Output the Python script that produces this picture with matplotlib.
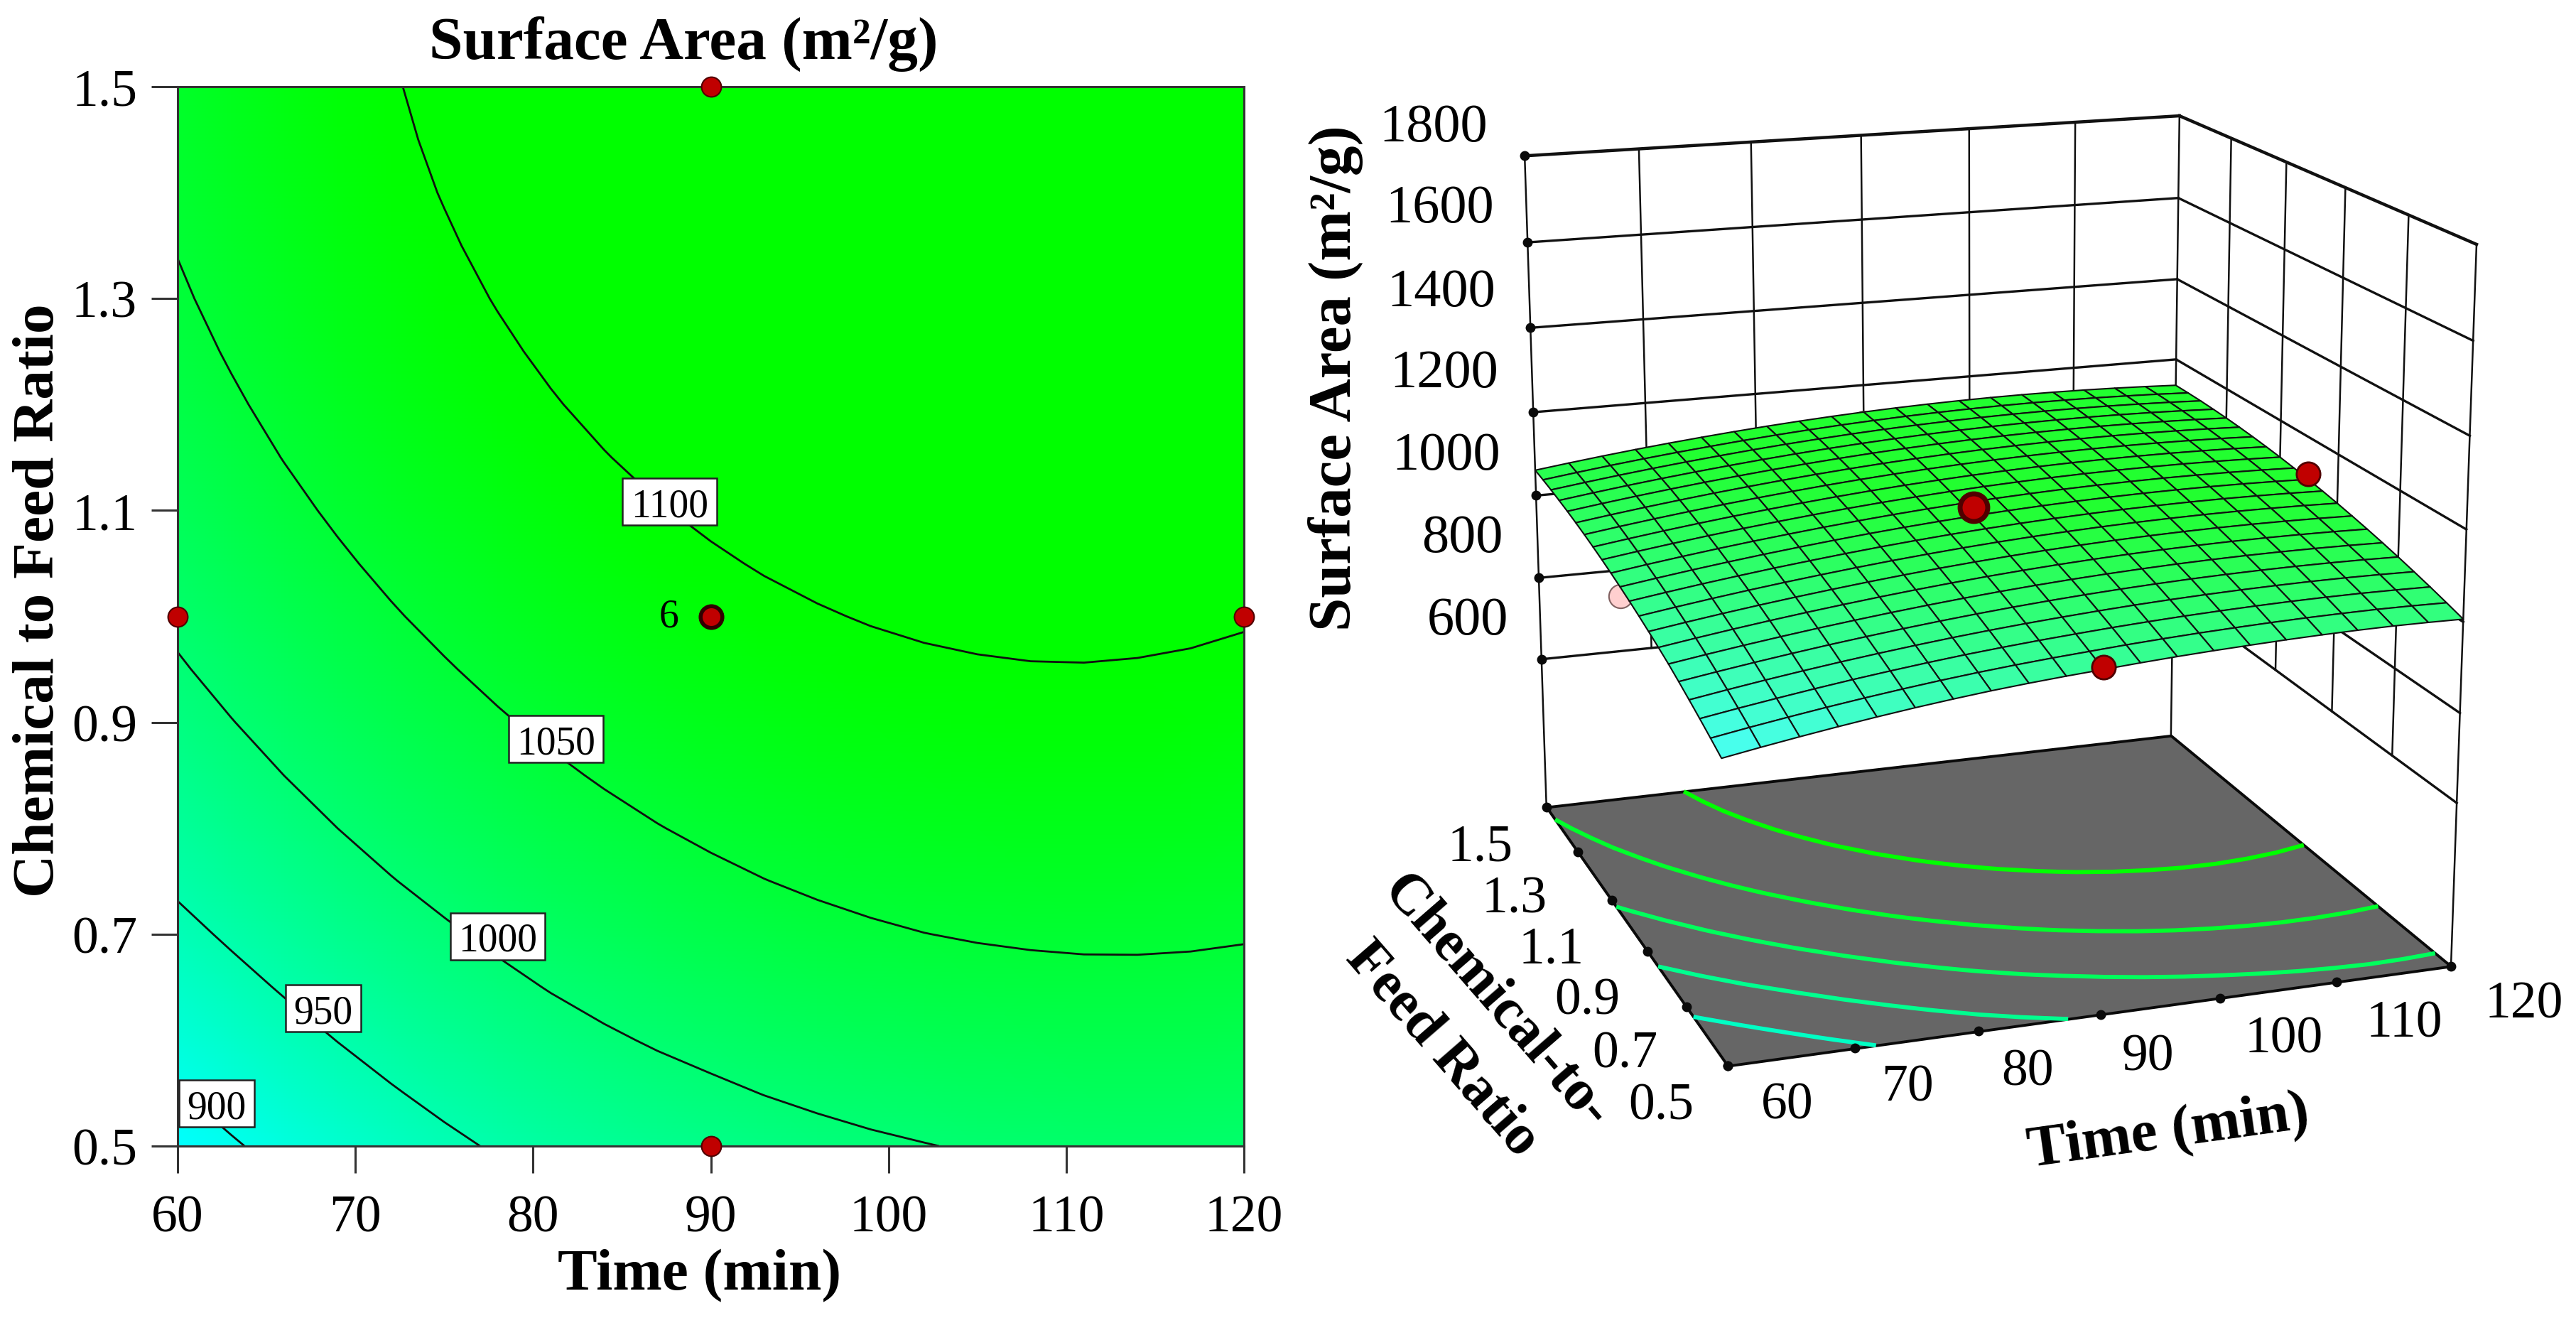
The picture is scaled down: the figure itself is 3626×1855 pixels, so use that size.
import numpy as np
import matplotlib
matplotlib.use('Agg')
import matplotlib.pyplot as plt
from matplotlib.colors import LinearSegmentedColormap, Normalize
from matplotlib.patches import Rectangle
from mpl_toolkits.mplot3d.art3d import Poly3DCollection

plt.rcParams['font.family'] = ['Liberation Serif', 'DejaVu Serif']

TIME = [60, 63, 66, 69, 72, 75, 78, 81, 84, 87, 90, 93, 96, 99, 102, 105, 108, 111, 114, 117, 120]
RATIO = [0.5, 0.55, 0.6, 0.65, 0.7, 0.75, 0.8, 0.85, 0.9, 0.95, 1.0, 1.05, 1.1, 1.15, 1.2, 1.25, 1.3, 1.35, 1.4, 1.45, 1.5]
AREA = [
[883.0,896.7,909.6,921.8,933.1,943.6,953.1,961.7,969.0,975.4,981.0,986.6,991.5,995.7,999.1,1002.3,1004.7,1006.4,1007.3,1007.0,1006.0],
[898.6,912.1,924.6,936.5,947.5,957.7,967.1,975.5,982.9,989.4,995.0,1000.6,1005.3,1009.4,1012.7,1015.6,1017.8,1019.2,1020.0,1019.6,1018.4],
[913.7,926.7,938.9,950.5,961.3,971.2,980.4,988.8,996.1,1002.7,1008.5,1013.9,1018.5,1022.5,1025.7,1028.3,1030.3,1031.5,1032.0,1031.5,1030.3],
[928.0,940.7,952.7,963.9,974.4,984.1,993.1,1001.4,1008.8,1015.4,1021.2,1026.5,1031.1,1034.9,1038.0,1040.4,1042.1,1043.2,1043.4,1042.8,1041.4],
[941.8,954.1,965.7,976.6,986.9,996.3,1005.2,1013.4,1020.8,1027.5,1033.4,1038.6,1043.0,1046.7,1049.7,1051.9,1053.4,1054.2,1054.2,1053.5,1052.0],
[954.9,966.9,978.2,988.8,998.8,1008.0,1016.7,1024.7,1032.0,1038.6,1044.4,1049.5,1053.8,1057.4,1060.3,1062.4,1063.8,1064.4,1064.3,1063.5,1061.9],
[966.4,978.3,989.5,1000.0,1009.8,1018.9,1027.5,1035.4,1042.6,1049.1,1054.8,1059.8,1064.0,1067.5,1070.2,1072.2,1073.5,1074.0,1073.8,1072.9,1071.2],
[977.2,989.0,1000.1,1010.5,1020.2,1029.2,1037.7,1045.5,1052.6,1058.9,1064.5,1069.4,1073.5,1076.9,1079.5,1081.4,1082.6,1083.0,1082.7,1081.6,1079.8],
[987.5,999.1,1010.1,1020.4,1030.0,1038.9,1047.3,1055.0,1061.9,1068.2,1073.7,1078.4,1082.4,1085.7,1088.2,1090.0,1091.1,1091.4,1090.9,1089.8,1087.9],
[997.1,1008.6,1019.5,1029.6,1039.2,1047.9,1056.2,1063.8,1070.6,1076.8,1082.1,1086.8,1090.7,1093.8,1096.3,1097.9,1098.9,1099.1,1098.5,1097.3,1095.2],
[1006.0,1017.4,1028.2,1038.3,1047.7,1056.4,1064.5,1072.0,1078.7,1084.7,1090.0,1094.5,1098.3,1101.4,1103.7,1105.3,1106.1,1106.2,1105.5,1104.1,1102.0],
[1014.3,1025.7,1036.3,1046.3,1055.6,1064.1,1072.2,1079.5,1086.2,1092.1,1097.2,1101.7,1105.3,1108.3,1110.5,1111.9,1112.7,1112.6,1111.9,1110.4,1108.1],
[1022.1,1033.3,1043.8,1053.7,1062.9,1071.3,1079.2,1086.5,1093.0,1098.8,1103.9,1108.2,1111.7,1114.6,1116.7,1118.0,1118.6,1118.5,1117.6,1116.0,1113.7],
[1029.1,1040.2,1050.7,1060.4,1069.5,1077.8,1085.6,1092.8,1099.2,1104.9,1109.8,1114.0,1117.5,1120.2,1122.2,1123.4,1123.9,1123.7,1122.7,1121.0,1118.5],
[1035.6,1046.6,1056.9,1066.5,1075.5,1083.7,1091.4,1098.5,1104.8,1110.4,1115.2,1119.3,1122.6,1125.2,1127.1,1128.2,1128.6,1128.3,1127.2,1125.4,1122.8],
[1041.4,1052.3,1062.5,1072.0,1080.9,1089.0,1096.6,1103.5,1109.7,1115.2,1119.9,1123.9,1127.1,1129.6,1131.4,1132.4,1132.7,1132.2,1131.0,1129.1,1126.4],
[1046.6,1057.4,1067.5,1076.9,1085.6,1093.6,1101.1,1107.9,1114.0,1119.4,1124.0,1127.9,1131.0,1133.4,1135.0,1135.9,1136.1,1135.5,1134.2,1132.2,1129.4],
[1051.1,1061.8,1071.8,1081.1,1089.7,1097.6,1105.0,1111.7,1117.7,1122.9,1127.4,1131.2,1134.2,1136.5,1138.0,1138.8,1138.9,1138.2,1136.8,1134.6,1131.7],
[1055.1,1065.6,1075.5,1084.7,1093.2,1101.0,1108.3,1114.9,1120.7,1125.9,1130.3,1133.9,1136.8,1139.0,1140.4,1141.1,1141.1,1140.3,1138.7,1136.5,1133.5],
[1058.4,1068.8,1078.6,1087.7,1096.1,1103.7,1110.9,1117.4,1123.1,1128.2,1132.4,1136.0,1138.8,1140.8,1142.2,1142.7,1142.6,1141.7,1140.0,1137.7,1134.5],
[1061.0,1071.3,1081.0,1090.0,1098.3,1105.9,1112.9,1119.3,1124.9,1129.8,1134.0,1137.4,1140.1,1142.1,1143.3,1143.8,1143.5,1142.5,1140.7,1138.2,1135.0],
]
LEVELS = [900, 950, 1000, 1050, 1100]
FLOOR_LEVELS = [932, 976, 1018, 1058, 1100]
LABEL_T = [62.2, 68.2, 78.0, 81.3, 87.7]
LABEL_R = [0.54, 0.63, 0.698, 0.884, 1.108]
DESIGN_T = [60, 120, 90, 90, 90]
DESIGN_R = [1.0, 1.0, 0.5, 1.5, 1.0]
DESIGN_Z = [985, 1115, 986, 1110, 1110]
TIME_TICKS = [60, 70, 80, 90, 100, 110, 120]
RATIO_TICKS = [0.5, 0.7, 0.9, 1.1, 1.3, 1.5]
Z_TICKS = [600, 800, 1000, 1200, 1400, 1600, 1800]
Z_FLOOR = 230

W, H = 3626, 1856
fig = plt.figure(figsize=(W / 100, H / 100), dpi=100, facecolor='white')
def fx(p): return p / W
def fy(p): return 1 - p / H

T, R = np.meshgrid(TIME, RATIO)
Z = np.array(AREA)
cmap2d = LinearSegmentedColormap.from_list('cg', ['#00ffff', '#00ff00'])
cmap3d = LinearSegmentedColormap.from_list('cg3', ['#48ffec', '#22ff30'])
norm = Normalize(883, 1095, clip=True)

# ---------- left panel
ax = fig.add_axes([fx(250), fy(1614), (1751 - 250) / W, (1614 - 123) / H])
ax.pcolormesh(T, R, Z, cmap=cmap2d, norm=norm, shading='gouraud')
ax.contour(T, R, Z, levels=LEVELS, colors='#101010', linewidths=2.0)
ax.set_xlim(60, 120); ax.set_ylim(0.5, 1.5)
ax.set_xticks(TIME_TICKS); ax.set_yticks(RATIO_TICKS)
ax.set_yticklabels([f'{v:.1f}' for v in RATIO_TICKS])
ax.tick_params(length=27, width=2.2, labelsize=53, color='#333333', pad=14)
ax.tick_params(axis='x', pad=22)
for s in ax.spines.values():
    s.set_linewidth(2.2); s.set_color('#333333')
for lv, t, r in zip(LEVELS, LABEL_T, LABEL_R):
    dw = (133 if lv >= 1000 else 106) / 2 / 25.02
    dh = 33 / 1491
    ax.add_patch(Rectangle((t - dw, r - dh), 2 * dw, 2 * dh, fc='white', ec='#222222', lw=1.8, zorder=5))
    ax.text(t, r, str(lv), ha='center', va='center_baseline', fontsize=40, zorder=5.5)
ax.plot(DESIGN_T[:4], DESIGN_R[:4], 'o', ms=20, mfc='#C00000', mec='#500000', mew=1.5, clip_on=False, zorder=6)
ax.plot(DESIGN_T[4:], DESIGN_R[4:], 'o', ms=22, mfc='#C00000', mec='#300000', mew=4, clip_on=False, zorder=6)
ax.text(88.2, 1.0, '6', ha='right', va='center', fontsize=40, zorder=6)
fig.text(fx(962), fy(62), 'Surface Area (m²/g)', ha='center', va='center', fontsize=61.5, fontweight='bold')
fig.text(fx(985), fy(1796), 'Time (min)', ha='center', va='center', fontsize=60, fontweight='bold')
fig.text(fx(56), fy(845), 'Chemical to Feed Ratio', ha='center', va='center', rotation=90, fontsize=60, fontweight='bold')

# ---------- right panel
ax3 = fig.add_axes([1899.3 / W, 204.0 / H, 1711.4 / W, 1711.4 / H], projection='3d', computed_zorder=False)
ax3.set_xlim(60, 120, view_margin=0); ax3.set_ylim(0.5, 1.5, view_margin=0); ax3.set_zlim(Z_FLOOR, 1800, view_margin=0)
ax3.set_axis_off()
ax3.view_init(16.1357, 251.0116, 0.0624)
ax3.set_proj_type('persp', focal_length=0.5932)
ax3.set_box_aspect((1, np.exp(0.0055), np.exp(-0.0196)))
ax3.patch.set_alpha(0)

TL, TR, RF, RB = TIME_TICKS[0], TIME_TICKS[-1], RATIO_TICKS[0], RATIO_TICKS[-1]
# walls
for z in Z_TICKS:
    lw = 3.2 if z == Z_TICKS[-1] else 2.4
    ax3.plot([TL, TR], [RB, RB], [z, z], color='#111111', lw=lw, zorder=1)
    ax3.plot([TR, TR], [RB, RF], [z, z], color='#111111', lw=lw, zorder=1)
for t in TIME_TICKS:
    z0 = Z_FLOOR if t in (TL, TR) else Z_TICKS[0]
    ax3.plot([t, t], [RB, RB], [z0, Z_TICKS[-1]], color='#111111', lw=1.8, zorder=1)
for r in RATIO_TICKS[:-1]:
    z0 = Z_FLOOR if r == RF else Z_TICKS[0]
    ax3.plot([TR, TR], [r, r], [z0, Z_TICKS[-1]], color='#111111', lw=1.8, zorder=1)
# hidden design points
ax3.plot([DESIGN_T[0]], [DESIGN_R[0]], [DESIGN_Z[0]], 'o', ms=24, mfc='#FFCFCF', mec='#806060', mew=1.5, zorder=2)
ax3.plot([DESIGN_T[3]], [DESIGN_R[3]], [DESIGN_Z[3]], 'o', ms=22, mfc='#FFCFCF', mec='#806060', mew=1.5, zorder=2)
# floor
floor = Poly3DCollection([[(TL, RB, Z_FLOOR), (TL, RF, Z_FLOOR), (TR, RF, Z_FLOOR), (TR, RB, Z_FLOOR)]],
                         facecolor='#666666', edgecolor='#0a0a0a', linewidth=2.8, zorder=3)
ax3.add_collection3d(floor)
cs = ax3.contour(T, R, Z, levels=FLOOR_LEVELS, zdir='z', offset=Z_FLOOR, cmap=cmap2d, norm=norm, linewidths=4.2)
cs.set_zorder(4)
# surface
ax3.plot_surface(T, R, Z, rstride=1, cstride=1, facecolors=cmap3d(norm(Z)), edgecolor='#101010',
                 linewidth=1.5, shade=False, antialiased=True, zorder=5)
# visible design points
for i, (ms, mew) in zip([1, 2, 4], [(24, 2), (24, 2), (28, 5)]):
    ax3.plot([DESIGN_T[i]], [DESIGN_R[i]], [DESIGN_Z[i]], 'o', ms=ms, mfc='#C00000', mec='#500000', mew=mew, zorder=6)
# axis dots
ax3.plot([TL] * 6, RATIO_TICKS, [Z_FLOOR] * 6, 'o', ms=9, color='#0a0a0a', zorder=7)
ax3.plot(TIME_TICKS, [RF] * 7, [Z_FLOOR] * 7, 'o', ms=9, color='#0a0a0a', zorder=7)
ax3.plot([TL] * 7, [RB] * 7, Z_TICKS, 'o', ms=9, color='#0a0a0a', zorder=7)

# tick labels
ZLAB_XY = [(2066, 875), (2058, 758), (2036, 643), (2033, 527), (2029, 412), (2027, 295), (2018, 180)]
for v, (x, y) in zip(Z_TICKS, ZLAB_XY):
    fig.text(fx(x), fy(y), str(v), ha='center', va='center', fontsize=55)
RLAB_XY = [(2338, 1558), (2287, 1485), (2234, 1410), (2184, 1338), (2132, 1267), (2083, 1194)]
for v, (x, y) in zip(RATIO_TICKS, RLAB_XY):
    fig.text(fx(x), fy(y), f'{v:.1f}', ha='center', va='center', fontsize=53)
TLAB_XY = [(2516, 1557), (2685, 1532), (2854, 1510), (3023, 1489), (3215, 1464), (3384, 1442), (3553, 1415)]
for v, (x, y) in zip(TIME_TICKS, TLAB_XY):
    fig.text(fx(x), fy(y), str(v), ha='center', va='center', fontsize=53)
fig.text(fx(1880), fy(532), 'Surface Area (m²/g)', ha='center', va='center', rotation=90, fontsize=61, fontweight='bold')
fig.text(fx(3052), fy(1595), 'Time (min)', ha='center', va='center', rotation=8, rotation_mode='anchor', fontsize=60, fontweight='bold')
fig.text(fx(2105), fy(1410), 'Chemical-to-', ha='center', va='center', rotation=-49, rotation_mode='anchor', fontsize=58, fontweight='bold')
fig.text(fx(2030), fy(1477), 'Feed Ratio', ha='center', va='center', rotation=-49, rotation_mode='anchor', fontsize=58, fontweight='bold')

fig.savefig('out.png', dpi=100)
